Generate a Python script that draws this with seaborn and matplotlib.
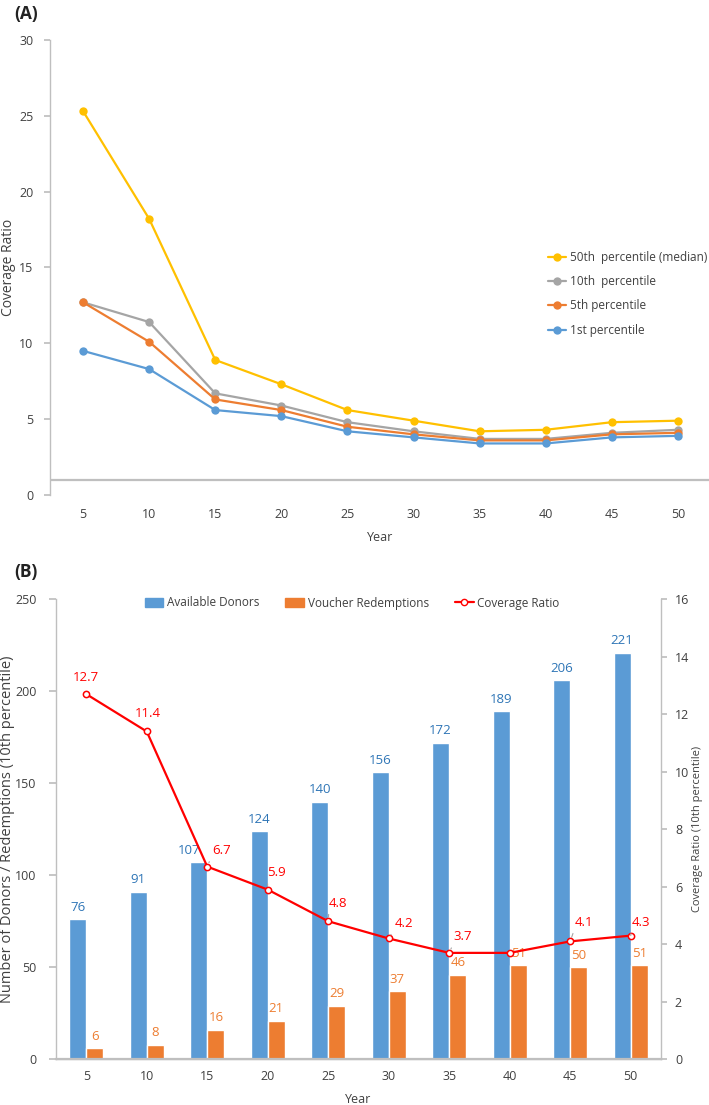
import numpy as np
import pandas as pd
import matplotlib.pyplot as plt
from matplotlib.patches import Patch
from matplotlib.lines import Line2D
import seaborn as sns

sns.set_theme(style='white')
plt.rcParams['font.family'] = ['Open Sans', 'DejaVu Sans']

# ---- data ----
years = [5, 10, 15, 20, 25, 30, 35, 40, 45, 50]
p50 = [25.3, 18.2, 8.9, 7.3, 5.6, 4.9, 4.2, 4.3, 4.8, 4.9]
p10 = [12.7, 11.4, 6.7, 5.9, 4.8, 4.2, 3.7, 3.7, 4.1, 4.3]
p5 = [12.7, 10.1, 6.3, 5.6, 4.5, 4.0, 3.6, 3.6, 4.0, 4.1]
p1 = [9.5, 8.3, 5.6, 5.2, 4.2, 3.8, 3.4, 3.4, 3.8, 3.9]
series_names = ['50th  percentile (median)', '10th  percentile', '5th percentile', '1st percentile']

donors = [76, 91, 107, 124, 140, 156, 172, 189, 206, 221]
redemptions = [6, 8, 16, 21, 29, 37, 46, 51, 50, 51]
coverage = [12.7, 11.4, 6.7, 5.9, 4.8, 4.2, 3.7, 3.7, 4.1, 4.3]
cov_labelled = [True, True, True, True, True, True, True, False, True, True]

# colours
YEL, GRY, ORG, BLU = '#FFC000', '#A5A5A5', '#ED7D31', '#5B9BD5'
RED = '#FF0000'
AX_GRAY = '#BFBFBF'
TXT = '#404040'
FS = 9
FS_VAL = 9.5

fig = plt.figure(figsize=(7.09, 11.05), dpi=100)

# ================= panel A =================
axA = fig.add_axes([50 / 709, 0.552, 661 / 709, 0.412])
dfA = pd.DataFrame({
    'Year': years * 4,
    'Ratio': p50 + p10 + p5 + p1,
    'Series': sum([[n] * len(years) for n in series_names], []),
})
sns.lineplot(data=dfA, x='Year', y='Ratio', hue='Series', hue_order=series_names,
             palette=[YEL, GRY, ORG, BLU], marker='o', markersize=6,
             markeredgewidth=0, linewidth=1.6, ax=axA)
axA.set_xlim(2.5, 52.5)
axA.set_ylim(0, 30)
axA.set_yticks(range(0, 31, 5))
axA.set_xticks(years)
axA.axhline(1, color=AX_GRAY, lw=1.6, zorder=0)
for s in ['top', 'right', 'bottom']:
    axA.spines[s].set_visible(False)
axA.spines['left'].set_color(AX_GRAY)
axA.spines['left'].set_linewidth(1)
axA.tick_params(axis='y', left=True, length=4, color=AX_GRAY, labelsize=FS, labelcolor=TXT, pad=8)
axA.tick_params(axis='x', bottom=False, length=0, labelsize=FS, labelcolor=TXT, pad=9)
axA.set_ylabel('Coverage Ratio', fontsize=10, color=TXT)
axA.set_xlabel('Year', fontsize=FS, color=TXT)
axA.yaxis.set_label_coords(-0.051, 0.5)
axA.xaxis.set_label_coords(0.5, -0.078)
axA.get_legend().remove()
hA, lA = axA.get_legend_handles_labels()
fig.legend(hA, lA, loc='upper left', bbox_to_anchor=(548 / 709, 1 - 251 / 1105),
           bbox_transform=fig.transFigure, frameon=False, fontsize=8.5,
           handlelength=1.5, handletextpad=0.4, labelspacing=0.95, borderaxespad=0,
           borderpad=0, labelcolor=TXT)

fig.text(14 / 709, 1 - 14 / 1105, '(A)', fontsize=12.5, fontweight='bold', va='center', color='#222222')

# ================= panel B =================
axB = fig.add_axes([56 / 709, 0.0414, 605 / 709, 0.4163])
dfB = pd.DataFrame({
    'Year': [str(y) for y in years] * 2,
    'Count': donors + redemptions,
    'Series': ['Available Donors'] * len(years) + ['Voucher Redemptions'] * len(years),
})
sns.barplot(data=dfB, x='Year', y='Count', hue='Series', palette=[BLU, ORG],
            width=0.57, saturation=1, ax=axB, legend=False)
for j, t in enumerate(axB.bar_label(axB.containers[0], labels=[str(v) for v in donors],
                                    padding=4, color='#2E75B6', fontsize=FS_VAL)):
    if j == 2:
        # 107 is nudged left in the reference, clear of the 6.7 label
        t.xyann = (t.xyann[0] - 7, t.xyann[1])
axB.bar_label(axB.containers[1], labels=[str(v) for v in redemptions], padding=4,
              color=ORG, fontsize=FS_VAL)
axB.set_ylim(0, 250)
axB.set_yticks(range(0, 251, 50))

axR = axB.twinx()
sns.pointplot(x=[str(y) for y in years], y=coverage, color=RED, markers='o',
              markersize=4.5, linewidth=1.6, markerfacecolor='white',
              markeredgecolor=RED, markeredgewidth=1.1, ax=axR)
axR.set_ylim(0, 16)
axR.set_yticks(range(0, 17, 2))
axB.set_xlim(-0.5, 9.5)
axR.set_xlim(-0.5, 9.5)

# red labels, offsets in pixels (style only)
offs = [(0, 17), (1, 18), (14, 16), (9, 17), (10, 18), (15, 15), (14, 16), (0, 0), (14, 19), (10, 13)]
leader = [False, False, True, True, True, True, True, False, True, True]
for i, (v, show) in enumerate(zip(coverage, cov_labelled)):
    if not show:
        continue
    ap = None
    if leader[i]:
        ap = dict(arrowstyle='-', color='#A6A6A6', lw=0.8, shrinkA=1, shrinkB=3, relpos=(0, 0.1))
    axR.annotate(f'{v:.1f}', xy=(i, v), xytext=offs[i], textcoords='offset pixels',
                 ha='center', va='center', color=RED, fontsize=FS_VAL, arrowprops=ap)

for ax in (axB, axR):
    ax.spines['top'].set_visible(False)
    for s in ['left', 'right', 'bottom']:
        ax.spines[s].set_color(AX_GRAY)
        ax.spines[s].set_linewidth(1)
axB.spines['right'].set_visible(False)
axR.spines['left'].set_visible(False)
axB.spines['bottom'].set_linewidth(1.6)
axB.tick_params(axis='y', left=True, length=5, color=AX_GRAY, labelsize=FS, labelcolor=TXT, pad=9)
axB.tick_params(axis='x', bottom=False, length=0, labelsize=FS, labelcolor=TXT, pad=8)
axR.tick_params(axis='y', right=True, length=4, color=AX_GRAY, labelsize=FS, labelcolor=TXT, pad=6)
axB.set_ylabel('Number of Donors / Redemptions (10th percentile)', fontsize=10.5, color=TXT)
axB.set_xlabel('Year', fontsize=FS, color=TXT)
axR.set_ylabel('Coverage Ratio (10th percentile)', fontsize=8, color=TXT)
axR.set_xlabel('')
axB.yaxis.set_label_coords(-0.068, 0.5)
axR.yaxis.set_label_coords(1.052, 0.5)
axB.xaxis.set_label_coords(0.5, -0.074)

handles = [Patch(color=BLU), Patch(color=ORG),
           Line2D([], [], color=RED, lw=1.6, marker='o', markersize=4.5,
                  markerfacecolor='white', markeredgecolor=RED)]
fig.legend(handles, ['Available Donors', 'Voucher Redemptions', 'Coverage Ratio'],
           loc='center', bbox_to_anchor=(352 / 709, 1 - 603 / 1105), ncol=3,
           frameon=False, fontsize=8.5, handlelength=1.6, handletextpad=0.3,
           columnspacing=2.2, labelcolor=TXT)

fig.text(14 / 709, 1 - 572 / 1105, '(B)', fontsize=12.5, fontweight='bold', va='center', color='#222222')

fig.savefig('out.png', dpi=100)
